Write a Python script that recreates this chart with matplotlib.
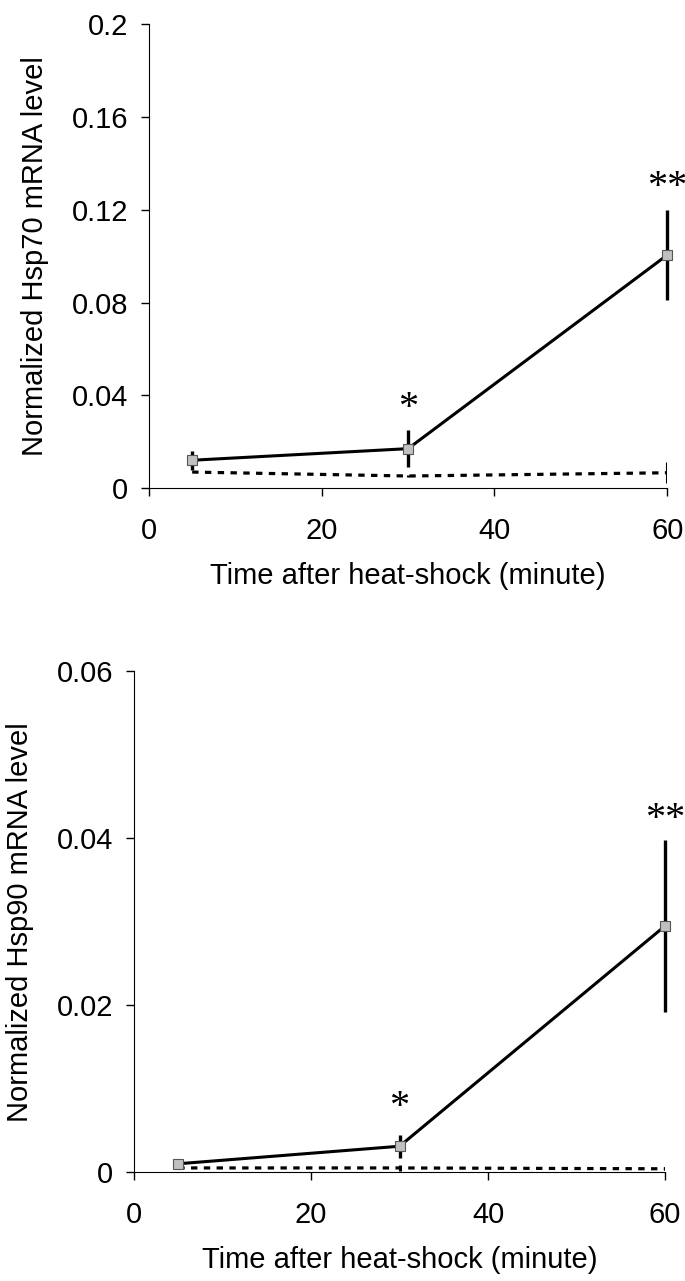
import matplotlib
matplotlib.use("Agg")
from matplotlib import pyplot as plt

plt.rcParams['font.family'] = ['Liberation Sans', 'DejaVu Sans']

times = [5, 30, 60]

# Hsp70
hsp70_hs = [0.012, 0.017, 0.1005]
hsp70_hs_err = [0.004, 0.008, 0.0195]
hsp70_ctrl = [0.0069, 0.0052, 0.0066]
hsp70_ctrl_err = [0.0, 0.0005, 0.0045]
hsp70_ticks = [0, 0.04, 0.08, 0.12, 0.16, 0.2]
hsp70_ticklabels = ["0", "0.04", "0.08", "0.12", "0.16", "0.2"]

# Hsp90
hsp90_hs = [0.001, 0.0031, 0.0295]
hsp90_hs_err = [0.0003, 0.0014, 0.0103]
hsp90_ctrl = [0.0005, 0.0005, 0.0004]
hsp90_ctrl_err = [0.0, 0.0004, 0.0002]
hsp90_ticks = [0, 0.02, 0.04, 0.06]
hsp90_ticklabels = ["0", "0.02", "0.04", "0.06"]

x_ticks = [0, 20, 40, 60]

stars70 = [(30, 0.0345, "*"), (60, 0.1297, "**")]
stars90 = [(30, 0.0078, "*"), (60, 0.0423, "**")]

fig = plt.figure(figsize=(6.85, 12.81), dpi=100)
ax1 = fig.add_axes([0.2175, 0.619, 0.7565, 0.362])
ax2 = fig.add_axes([0.1956, 0.085, 0.7754, 0.391])


def draw(ax, hs, hs_err, ctrl, ctrl_err, ymax, yt, ytl, stars, ylabel):
    ax.errorbar(times, ctrl, yerr=ctrl_err, color='black', lw=2.3, ls=(0, (2, 2)),
                elinewidth=2.2, capsize=0)
    ax.errorbar(times, hs, yerr=hs_err, color='black', lw=2.2, elinewidth=2.4, capsize=0,
                marker='s', markersize=6.5, markerfacecolor='#c0c0c0',
                markeredgecolor='#555555', markeredgewidth=0.8, clip_on=False, zorder=3)
    for x, y, s in stars:
        ax.text(x, y, s, ha='center', va='center', fontsize=29,
                family=['Liberation Serif', 'DejaVu Serif'])
    ax.set_xlim(0, 60)
    ax.set_ylim(0, ymax)
    ax.set_xticks(x_ticks)
    ax.set_yticks(yt)
    ax.set_yticklabels(ytl)
    ax.spines['top'].set_visible(False)
    ax.spines['right'].set_visible(False)
    ax.tick_params(direction='out', length=6, width=1, labelsize=21)
    ax.tick_params(axis='x', pad=15)
    ax.tick_params(axis='y', pad=9)
    ax.set_xlabel("Time after heat-shock (minute)", fontsize=21, labelpad=12)
    ax.set_ylabel(ylabel, fontsize=21, labelpad=16)


draw(ax1, hsp70_hs, hsp70_hs_err, hsp70_ctrl, hsp70_ctrl_err, 0.2,
     hsp70_ticks, hsp70_ticklabels, stars70, "Normalized Hsp70 mRNA level")
draw(ax2, hsp90_hs, hsp90_hs_err, hsp90_ctrl, hsp90_ctrl_err, 0.06,
     hsp90_ticks, hsp90_ticklabels, stars90, "Normalized Hsp90 mRNA level")

plt.savefig("out.png", dpi=100)
